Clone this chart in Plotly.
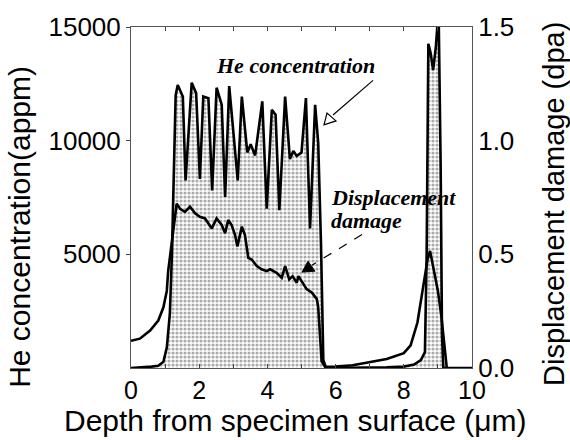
import plotly.graph_objects as go

# He concentration (appm) vs depth (um)
he_depth = [0, 0.3, 0.6, 0.8, 0.95, 1.05, 1.14, 1.20, 1.26, 1.31, 1.37, 1.52, 1.60, 1.78, 1.91, 2.02,
            2.12, 2.27, 2.38, 2.51, 2.66, 2.76, 2.88, 3.00, 3.13, 3.25, 3.41, 3.51, 3.64, 3.85,
            3.98, 4.13, 4.24, 4.35, 4.52, 4.66, 4.76, 4.86, 5.00, 5.13, 5.25, 5.40, 5.49, 5.57,
            5.64, 5.72, 6.5, 7.5, 8.0, 8.3, 8.5, 8.62, 8.67, 8.72, 8.79, 8.86, 8.94, 9.02, 9.08,
            9.12, 9.16, 10.0]
he_conc = [0, 20, 60, 100, 270, 900, 2400, 5000, 8500, 12000, 12450, 11940, 8250, 12550, 12090, 8320,
           11940, 11870, 7810, 12330, 11580, 7520, 12400, 10490, 8250, 11940, 9480, 9840, 9350, 11730,
           7010, 11360, 11140, 6940, 11940, 9190, 9550, 9330, 9480, 11870, 6140, 11580, 9910, 5570,
           350, 0, 0, 30, 60, 150, 350, 700, 5000, 14260, 13830, 13100, 14120, 15800, 9000,
           1500, 0, 0]

# Displacement damage (dpa) vs depth (um)
dpa_depth = [0, 0.26, 0.56, 0.80, 0.95, 1.05, 1.09, 1.24, 1.34, 1.44, 1.58, 1.73, 1.88, 2.02, 2.17,
             2.37, 2.51, 2.66, 2.76, 2.85, 2.95, 3.05, 3.12, 3.25, 3.34, 3.44, 3.54, 3.69, 3.83,
             3.98, 4.08, 4.27, 4.42, 4.52, 4.64, 4.74, 4.86, 4.91, 5.05, 5.15, 5.30, 5.45, 5.49,
             5.54, 5.59, 5.69, 6.0, 6.5, 7.0, 7.5, 8.0, 8.2, 8.4, 8.55, 8.7, 8.77, 8.85, 9.0,
             9.1, 9.2, 9.26]
dpa_val = [0.12, 0.129, 0.165, 0.209, 0.267, 0.339, 0.426, 0.60, 0.723, 0.70, 0.687, 0.709, 0.68, 0.665,
           0.658, 0.614, 0.658, 0.629, 0.593, 0.651, 0.629, 0.586, 0.535, 0.622, 0.586, 0.484, 0.477,
           0.448, 0.434, 0.426, 0.434, 0.419, 0.397, 0.448, 0.39, 0.404, 0.375, 0.404, 0.368, 0.347,
           0.332, 0.303, 0.267, 0.15, 0.03, 0.005, 0.006, 0.012, 0.025, 0.04, 0.065, 0.1, 0.2, 0.35,
           0.48, 0.515, 0.45, 0.339, 0.23, 0.065, 0.0]

x_ticks = [0, 2, 4, 6, 8, 10]
y_left_ticks = [5000, 10000, 15000]
y_left_text = ["5000", "10000", "15000"]
y_right_ticks = [0, 0.5, 1.0, 1.5]
y_right_text = ["0.0", "0.5", "1.0", "1.5"]

SANS = "Liberation Sans, Arial, sans-serif"
SERIF = "Liberation Serif, Times New Roman, serif"

fig = go.Figure()
fig.add_trace(go.Scatter(
    x=he_depth, y=he_conc, mode="lines", fill="tozeroy",
    line=dict(color="black", width=2.6),
    fillpattern=dict(shape=".", fgcolor="#555", bgcolor="white", size=4, solidity=0.5),
    fillcolor="white", showlegend=False, yaxis="y"))
fig.add_trace(go.Scatter(
    x=dpa_depth, y=dpa_val, mode="lines",
    line=dict(color="black", width=2.6), showlegend=False, yaxis="y2"))

fig.update_layout(
    width=570, height=440, autosize=False,
    margin=dict(l=131, r=98, t=23, b=72),
    paper_bgcolor="white", plot_bgcolor="white",
    font=dict(family=SANS, size=26, color="black"),
    xaxis=dict(range=[0, 10], tickvals=x_ticks, ticks="inside", ticklen=4, tickcolor="#444",
               showline=True, linecolor="#555", linewidth=1, mirror="ticks", showgrid=False,
               zeroline=False, tickfont=dict(size=25), ticklabelstandoff=0,
               minor=dict(dtick=1, ticks="inside", ticklen=4, tickcolor="#444")),
    yaxis=dict(range=[0, 15000], tickvals=y_left_ticks, ticktext=y_left_text, ticks="outside",
               ticklen=4, tickcolor="#444",
               showline=True, linecolor="#555", linewidth=1, showgrid=False, zeroline=False,
               tickfont=dict(size=26)),
    yaxis2=dict(range=[0, 1.5], tickvals=y_right_ticks, ticktext=y_right_text, overlaying="y",
                side="right", ticks="", showline=True, linecolor="#555", linewidth=1,
                showgrid=False, zeroline=False, tickfont=dict(size=26)),
)

# Axis titles
fig.add_annotation(text="He concentration(appm)", xref="paper", yref="paper", x=0, y=0.414,
                   xanchor="center", yanchor="middle",
                   xshift=-111, textangle=-90, showarrow=False, font=dict(family=SANS, size=30))
fig.add_annotation(text="Displacement damage (dpa)", xref="paper", yref="paper", x=1, y=0.481,
                   xanchor="center", yanchor="middle",
                   xshift=82, textangle=-90, showarrow=False, font=dict(family=SANS, size=29))
fig.add_annotation(text="Depth from specimen surface (\u03bcm)", xref="paper", yref="paper",
                   x=0.481, y=0, yshift=-52, xanchor="center", yanchor="middle",
                   showarrow=False, font=dict(family=SANS, size=30))

# In-plot labels
fig.add_annotation(text="<b><i>He concentration</i></b>", xref="paper", yref="paper",
                   x=(295 - 131) / 341, y=(368 - 62) / 345, xanchor="center", yanchor="middle",
                   showarrow=False, font=dict(family=SERIF, size=22))
fig.add_annotation(text="<b><i>Displacement</i></b>", xref="paper", yref="paper",
                   x=(329 - 131) / 341, y=(368 - 195) / 345, xanchor="left", yanchor="middle",
                   showarrow=False, font=dict(family=SERIF, size=22))
fig.add_annotation(text="<b><i>damage</i></b>", xref="paper", yref="paper",
                   x=(329 - 131) / 341, y=(368 - 219) / 345, xanchor="left", yanchor="middle",
                   showarrow=False, font=dict(family=SERIF, size=22))

def px(xp, yp):
    return (xp - 131) / 341, (368 - yp) / 345

# He arrow: line + hollow head
x0, y0 = px(373, 77)
x1, y1 = px(333, 112)
fig.add_shape(type="line", xref="paper", yref="paper", x0=x0, y0=y0, x1=x1, y1=y1,
              line=dict(color="black", width=1.2))
tx, ty = px(324, 122)
ax_, ay_ = px(327, 110)
bx_, by_ = px(336, 118)
fig.add_shape(type="path", xref="paper", yref="paper",
              path=f"M {tx},{ty} L {ax_},{ay_} L {bx_},{by_} Z",
              fillcolor="white", line=dict(color="black", width=1.2))

# Displacement arrow: dashed line + filled head
x0, y0 = px(362, 233)
x1, y1 = px(312, 264)
fig.add_shape(type="line", xref="paper", yref="paper", x0=x0, y0=y0, x1=x1, y1=y1,
              line=dict(color="black", width=1.2, dash="dash"))
tx, ty = px(302, 271)
ax_, ay_ = px(308, 260)
bx_, by_ = px(315, 270)
fig.add_shape(type="path", xref="paper", yref="paper",
              path=f"M {tx},{ty} L {ax_},{ay_} L {bx_},{by_} Z",
              fillcolor="black", line=dict(color="black", width=1))

fig.write_html("out.html", config={"displayModeBar": False},
               post_script="document.body.style.margin='0';document.body.style.overflow='hidden';")
